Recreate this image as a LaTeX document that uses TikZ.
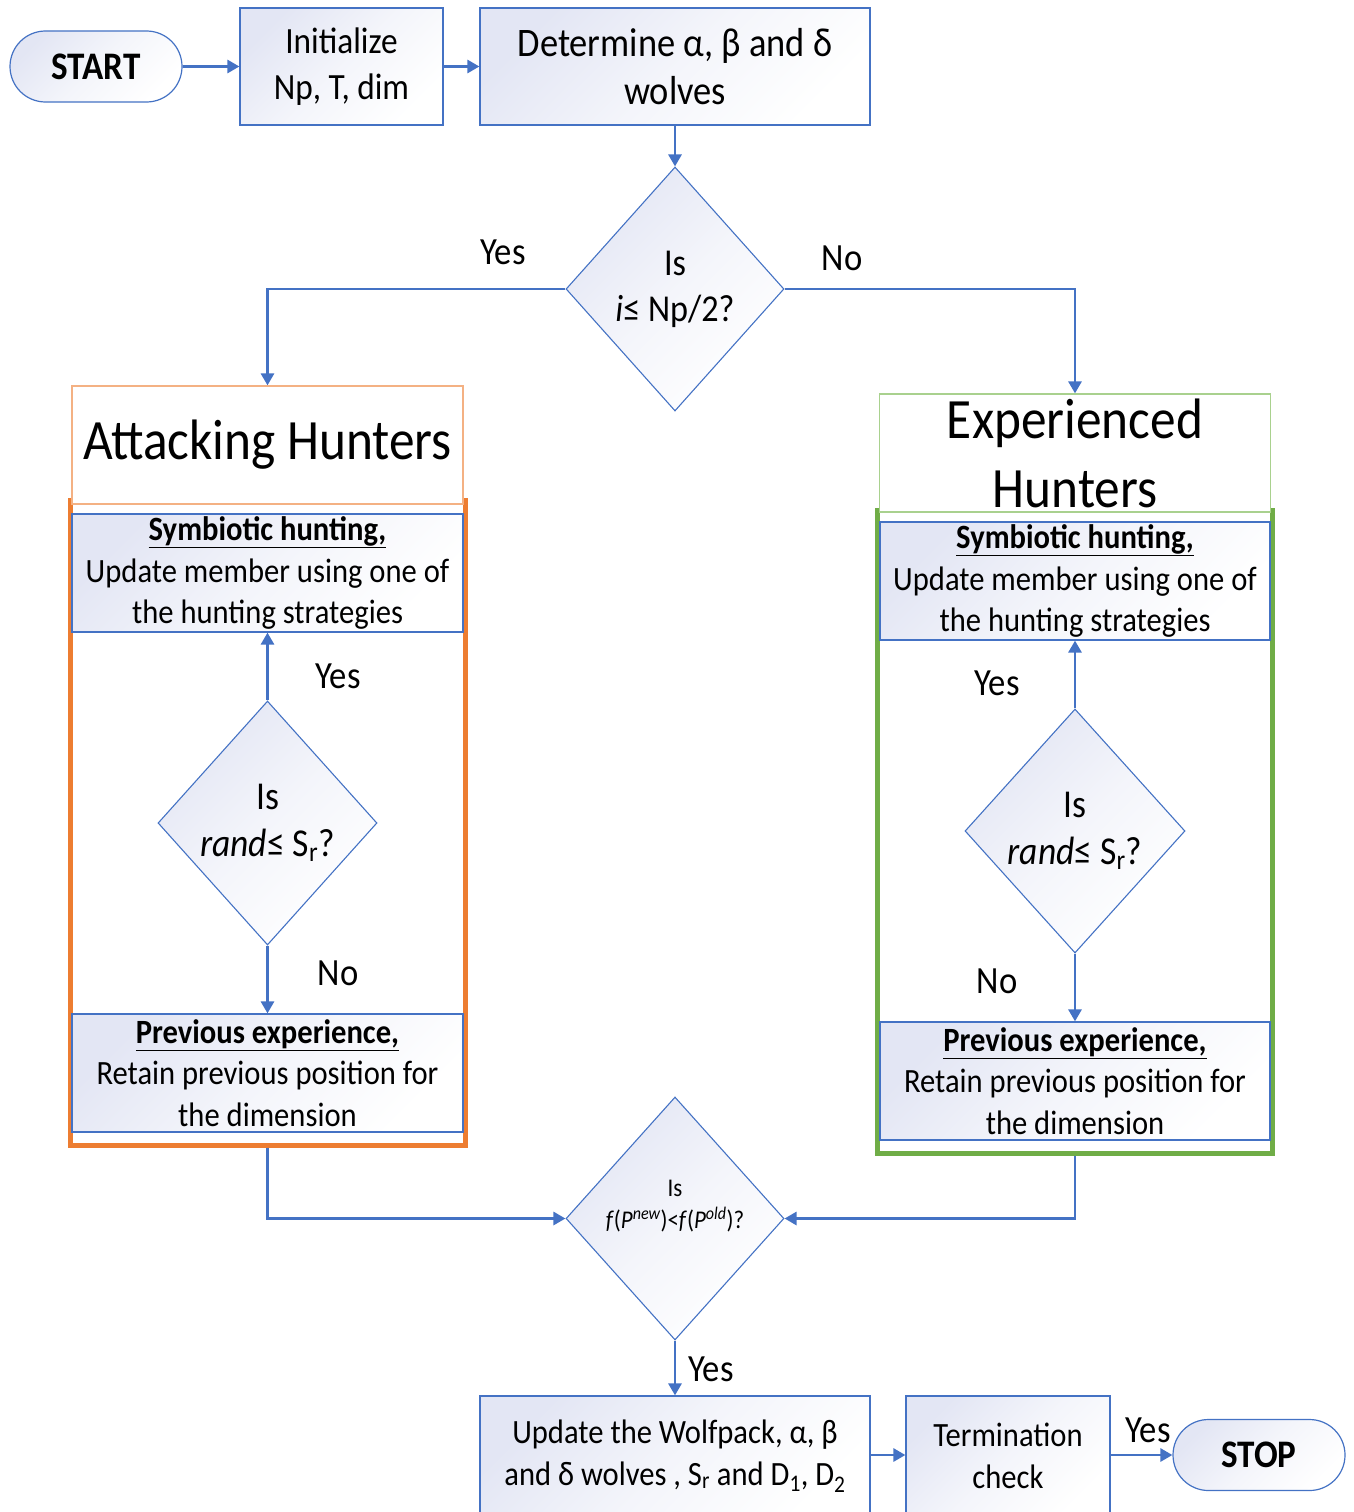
\documentclass[tikz,border=0pt]{standalone}
\usepackage{fontspec}
\setmainfont[FakeStretch=0.9]{Carlito}
\usetikzlibrary{shapes.geometric,shapes.misc,arrows.meta}
\newcommand\fsz[2]{\fontsize{#1}{#2}\selectfont}
\definecolor{mblue}{HTML}{4472C4}
\definecolor{morange}{HTML}{ED7D31}
\definecolor{lorange}{HTML}{F4B183}
\definecolor{mgreen}{HTML}{70AD47}
\definecolor{lgreen}{HTML}{A9D18E}
\definecolor{lav}{HTML}{E3E6F4}
\tikzset{
  gfill/.style={top color=lav, bottom color=white, middle color=white!60!lav, shading angle=45},
  procbox/.style={draw=mblue, line width=1.2pt, gfill, align=center, inner sep=0pt, font=\fsz{34}{41.5}},
  topbox/.style={procbox, font=\fsz{38}{46}},
  termbox/.style={rounded rectangle, draw=mblue, line width=1.2pt, gfill, minimum width=172pt, minimum height=71pt, inner sep=0pt, font=\fsz{39}{44}\bfseries},
  decbox/.style={diamond, draw=mblue, line width=1.1pt, gfill, inner sep=0pt, align=center, minimum width=218pt, minimum height=244pt, font=\fsz{38}{46}},
  headbox/.style={draw, line width=1.2pt, fill=white, align=center, inner sep=0pt, minimum width=391pt, minimum height=118pt},
  framebox/.style={draw, line width=5pt, minimum width=395pt},
  conn/.style={draw=mblue, line width=2.8pt, -{Triangle[length=12pt,width=13pt]}},
  lbl/.style={font=\fsz{38.5}{44}, inner sep=0pt},
}
\begin{document}
\begin{tikzpicture}[x=1pt,y=-1pt]
\useasboundingbox (0,0) rectangle (1353,1512);
% top row
\node[termbox] (start) at (96,66.5) {START};
\node[topbox, minimum width=203pt, minimum height=117pt, font=\fsz{37}{46}] (init) at (341.5,66.5) {Initialize\\Np, T, dim};
\node[topbox, minimum width=390pt, minimum height=117pt, font=\fsz{40.5}{48}] (det) at (675,66.5) {Determine α, β and δ\\wolves};
\node[decbox] (d1) at (675,289) {Is\\\textit{i}≤ Np/2?};
\node[lbl] (y1) at (503,252) {Yes};
\node[lbl] (n1) at (842,258) {No};
% left group
\node[framebox, draw=morange, minimum height=645pt] (frL) at (267.5,822.5) {};
\node[headbox, draw=lorange, font=\fsz{57}{68}] (attH) at (267.5,445) {Attacking Hunters};
\node[procbox, minimum width=391pt, minimum height=118pt] (symL) at (267.5,573) {\underline{\textbf{Symbiotic hunting,}}\\Update member using one of\\the hunting strategies};
\node[decbox, minimum width=219pt, font=\fsz{39.5}{47}] (d2) at (267.5,823) {Is\\\textit{rand}≤ S\textsubscript{r}?};
\node[procbox, minimum width=391pt, minimum height=118pt] (prevL) at (267.5,1073) {\underline{\textbf{Previous experience,}}\\Retain previous position for\\the dimension};
\node[lbl] (y2) at (338,676) {Yes};
\node[lbl] (n2) at (338,973) {No};
% right group
\node[framebox, draw=mgreen, minimum height=643pt] (frR) at (1075,831.5) {};
\node[headbox, draw=lgreen, font=\fsz{57}{69}] (expH) at (1075,453) {Experienced\\Hunters};
\node[procbox, minimum width=390pt, minimum height=118pt] (symR) at (1075,581) {\underline{\textbf{Symbiotic hunting,}}\\Update member using one of\\the hunting strategies};
\node[decbox, minimum width=220pt, font=\fsz{39.5}{47}] (d3) at (1075,831) {Is\\\textit{rand}≤ S\textsubscript{r}?};
\node[procbox, minimum width=390pt, minimum height=118pt] (prevR) at (1075,1081) {\underline{\textbf{Previous experience,}}\\Retain previous position for\\the dimension};
\node[lbl] (y3) at (997,683) {Yes};
\node[lbl] (n3) at (997,981) {No};
% bottom
\node[decbox, minimum height=243pt, font=\fsz{25.5}{32}] (d4) at (675,1218.5) {Is\\\textit{f}(\textit{P\textsuperscript{new}})<\textit{f}(\textit{P\textsuperscript{old}})?\\[-4pt]\mbox{}};
\node[lbl] (y4) at (711,1369) {Yes};
\node[procbox, minimum width=390pt, minimum height=120pt] (upd) at (675,1456) {Update the Wolfpack, α, β\\and δ wolves , S\textsubscript{r} and D\textsubscript{1}, D\textsubscript{2}};
\node[procbox, minimum width=204pt, minimum height=120pt] (term) at (1008,1456) {Termination\\check};
\node[termbox] (stop) at (1259,1455) {STOP};
\node[lbl] (y5) at (1148,1430) {Yes};
% connectors
\draw[conn] (start) -- (init);
\draw[conn] (init) -- (det);
\draw[conn] (det) -- (d1);
\draw[conn] (d1.west) -| (attH.north);
\draw[conn] (d1.east) -| (expH.north);
\draw[conn] (d2.north) -- (symL.south);
\draw[conn] (d2.south) -- (prevL.north);
\draw[conn] (d3.north) -- (symR.south);
\draw[conn] (d3.south) -- (prevR.north);
\draw[conn] (frL.south) |- (d4.west);
\draw[conn] (frR.south) |- (d4.east);
\draw[conn] (d4) -- (upd);
\draw[conn] (upd.east |- stop) -- (term.west |- stop);
\draw[conn] (term.east |- stop) -- (stop);
\end{tikzpicture}
\end{document}
